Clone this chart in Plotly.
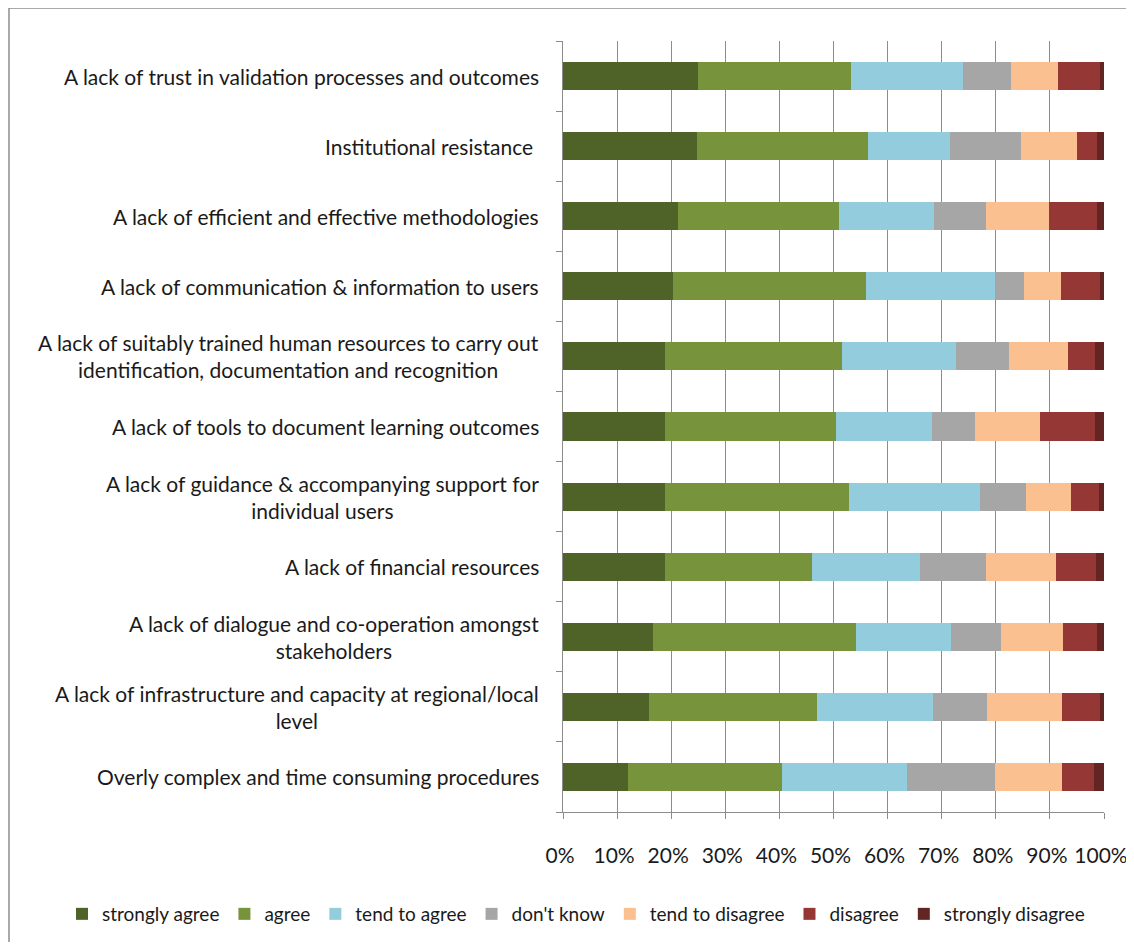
import plotly.graph_objects as go

categories = [
    "A lack of trust in validation processes and outcomes",
    "Institutional resistance ",
    "A lack of efficient and effective methodologies",
    "A lack of communication & information to users",
    "A lack of suitably trained human resources to carry out<br>identification, documentation and recognition",
    "A lack of tools to document learning outcomes",
    "A lack of guidance & accompanying support for<br>individual users",
    "A lack of financial resources",
    "A lack of dialogue and co-operation amongst<br>stakeholders",
    "A lack of infrastructure and capacity at regional/local<br>level",
    "Overly complex and time consuming procedures",
]

strongly_agree = [25.0, 24.8, 21.3, 20.4, 18.9, 18.9, 18.9, 18.8, 16.6, 15.9, 12.1]
agree = [28.2, 31.5, 29.8, 35.6, 32.6, 31.6, 33.9, 27.3, 37.6, 31.0, 28.4]
tend_to_agree = [20.7, 15.3, 17.5, 23.8, 21.2, 17.7, 24.2, 19.9, 17.6, 21.4, 23.1]
dont_know = [9.0, 13.0, 9.6, 5.5, 9.8, 7.9, 8.5, 12.2, 9.1, 10.1, 16.2]
tend_to_disagree = [8.6, 10.5, 11.6, 6.8, 10.8, 12.1, 8.4, 13.0, 11.6, 13.8, 12.4]
disagree = [7.7, 3.6, 8.9, 7.1, 5.0, 10.1, 5.1, 7.3, 6.2, 7.0, 5.9]
strongly_disagree = [0.8, 1.3, 1.3, 0.8, 1.7, 1.7, 1.0, 1.5, 1.3, 0.8, 1.9]

series_names = ["strongly agree", "agree", "tend to agree", "don't know",
                "tend to disagree", "disagree", "strongly disagree"]
series_values = [strongly_agree, agree, tend_to_agree, dont_know,
                 tend_to_disagree, disagree, strongly_disagree]
colors = ["#4F6228", "#77933C", "#93CDDD", "#A6A6A6", "#FAC090", "#953735", "#632523"]

tick_vals = [0, 10, 20, 30, 40, 50, 60, 70, 80, 90, 100]
tick_text = [f"{v}%" for v in tick_vals]

FONT = "Lato, Liberation Sans, sans-serif"

fig = go.Figure()
for name, vals, col in zip(series_names, series_values, colors):
    fig.add_trace(go.Bar(
        y=list(range(len(categories))), x=vals, name=name, orientation="h",
        marker=dict(color=col, line=dict(width=0)),
    ))

# the page body adds an 8px offset; work in window pixels and subtract it
OFF = 8
W, H = 1134 - OFF, 950 - 2 * OFF
pw, ph = 541, 771
ml, mt = 563 - OFF, 41 - OFF
mr, mb = W - ml - pw, H - mt - ph


def px_x(p):
    return (p - OFF - ml) / pw


def px_y(p):
    return 1 - (p - OFF - mt) / ph


annotations = []
for i, c in enumerate(categories):
    annotations.append(dict(
        text=c, x=px_x(541), xref="paper", y=i, yref="y",
        xanchor="right", yanchor="middle", align="center", showarrow=False,
        font=dict(family=FONT, size=21, color="#1a1a1a"),
    ))

shapes = [
    dict(type="line", xref="paper", yref="paper",
         x0=px_x(9), x1=px_x(9), y0=px_y(960), y1=px_y(8),
         line=dict(color="#8c8c8c", width=1.5)),
    dict(type="line", xref="paper", yref="paper",
         x0=px_x(9), x1=px_x(1140), y0=px_y(8), y1=px_y(8),
         line=dict(color="#8c8c8c", width=1.5)),
]

fig.update_layout(
    width=W, height=H,
    margin=dict(l=ml, r=mr, t=mt, b=mb, autoexpand=False),
    barmode="stack", bargap=0.6,
    plot_bgcolor="white", paper_bgcolor="white",
    font=dict(family=FONT, size=20, color="#1a1a1a"),
    showlegend=True,
    xaxis=dict(
        range=[0, 100], tickvals=tick_vals, ticktext=tick_text,
        showgrid=True, gridcolor="#8c8c8c", gridwidth=1,
        showline=True, linecolor="#8c8c8c", linewidth=1,
        ticks="outside", ticklen=6, tickcolor="#8c8c8c",
        ticklabelstandoff=19, ticklabelshift=-3, automargin=False,
        zeroline=False, tickfont=dict(family=FONT, size=21, color="#1a1a1a"),
    ),
    yaxis=dict(
        range=[len(categories) - 0.5, -0.5],
        tickvals=[i + 0.5 for i in range(-1, len(categories))],
        showticklabels=False, automargin=False,
        showline=True, linecolor="#8c8c8c", linewidth=1,
        ticks="outside", ticklen=6, tickcolor="#8c8c8c",
        showgrid=False, zeroline=False,
    ),
    legend=dict(
        orientation="h", x=px_x(62), xanchor="left",
        y=px_y(914), yanchor="middle", itemwidth=30,
        font=dict(family=FONT, size=19, color="#1a1a1a"),
        traceorder="normal",
    ),
    annotations=annotations,
    shapes=shapes,
)

fig.write_html("out.html")
